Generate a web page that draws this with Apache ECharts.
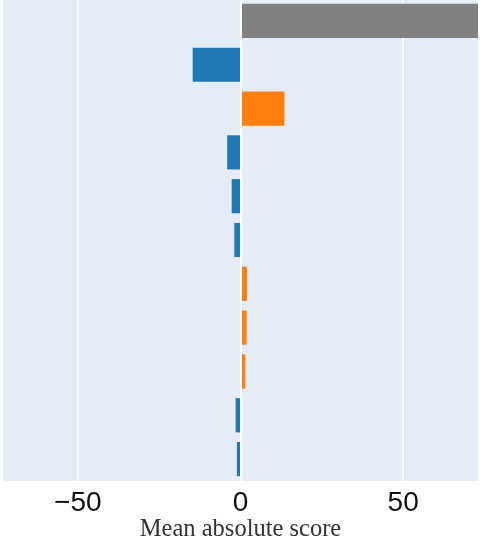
<!DOCTYPE html>
<html>
<head>
<meta charset="utf-8">
<script src="https://cdn.jsdelivr.net/npm/echarts@6/dist/echarts.min.js"></script>
<style>
  html, body { margin: 0; padding: 0; background: #ffffff; }
  #chart { width: 480px; height: 538px; }
</style>
</head>
<body>
<div id="chart"></div>
<script>
// Rows, top to bottom: the overall score first, then each feature's contribution
const rowNames = ['total', 'f1', 'f2', 'f3', 'f4', 'f5', 'f6', 'f7', 'f8', 'f9', 'f10'];
const rowKinds = ['total', 'feature', 'feature', 'feature', 'feature', 'feature',
                  'feature', 'feature', 'feature', 'feature', 'feature'];
const scores = [73, -14.7, 13.5, -4.1, -2.7, -1.9, 2.0, 1.9, 1.5, -1.5, -1.1];

// X axis
const xMin = -73;
const xMax = 73;
const tickValues = [-50, 0, 50];
const axisTitle = 'Mean absolute score';

const COLORS = { total: '#808080', neg: '#1f77b4', pos: '#ff7f0e' };

function barColor(kind, v) {
  if (kind === 'total') return COLORS.total;
  return v < 0 ? COLORS.neg : COLORS.pos;
}

const barData = scores.map((v, i) => ({
  value: v,
  itemStyle: { color: barColor(rowKinds[i], v) }
}));

const chart = echarts.init(document.getElementById('chart'), null, { renderer: 'canvas' });

chart.setOption({
  animation: false,
  backgroundColor: '#ffffff',
  grid: {
    left: 3, right: 2, top: -1, height: 482,
    outerBoundsMode: 'none',
    containLabel: false,
    show: true, backgroundColor: '#e5ecf6', borderWidth: 0
  },
  xAxis: {
    type: 'value',
    min: xMin,
    max: xMax,
    name: axisTitle,
    nameLocation: 'middle',
    nameGap: 36,
    nameMoveOverlap: false,
    nameTextStyle: { fontFamily: 'Liberation Serif', fontSize: 24.5, color: '#333333' },
    axisLine: { show: false },
    axisTick: { show: false, customValues: tickValues },
    axisLabel: {
      customValues: tickValues,
      margin: 8,
      fontFamily: 'Liberation Sans',
      fontSize: 28,
      color: '#111111',
      formatter: v => String(v).replace('-', '\u2212')
    },
    splitLine: { show: true, lineStyle: { color: '#ffffff', width: 1.5 } }
  },
  yAxis: {
    type: 'category',
    data: rowNames,
    inverse: true,
    axisLine: { show: false },
    axisTick: { show: false },
    axisLabel: { show: false },
    splitLine: { show: false }
  },
  series: [
    {
      type: 'bar',
      data: barData,
      barCategoryGap: '22%',
      z: 2
    },
    {
      // zero line, drawn over the bar bases
      type: 'line',
      data: [],
      z: 3,
      silent: true,
      markLine: {
        z: 3,
        symbol: 'none',
        silent: true,
        label: { show: false },
        lineStyle: { color: '#ffffff', width: 2, type: 'solid' },
        data: [{ xAxis: 0 }]
      }
    }
  ]
});
</script>
</body>
</html>
